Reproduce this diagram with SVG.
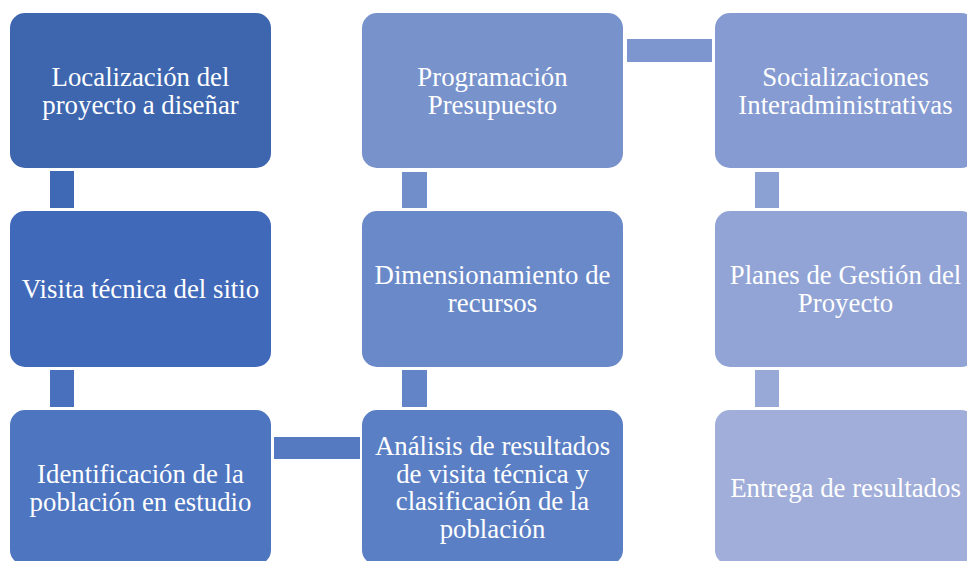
<svg xmlns="http://www.w3.org/2000/svg" width="967" height="561" viewBox="0 0 967 561">
<style>
.box{stroke:none}
.t{font-family:"Liberation Serif","Times New Roman",serif;font-size:26.8px;fill:#ffffff;text-anchor:middle}
</style>
<rect width="967" height="561" fill="#ffffff"/>
<g id="connectors">
<rect x="50" y="171" width="24" height="37" fill="#3F68B5"/>
<rect x="50" y="370" width="24" height="37" fill="#4870BC"/>
<rect x="274" y="437" width="86" height="22" fill="#557AC2"/>
<rect x="402" y="370" width="25" height="37" fill="#6384C6"/>
<rect x="402" y="172" width="25" height="36" fill="#718DCA"/>
<rect x="627" y="39" width="85" height="23" fill="#7E96CF"/>
<rect x="755" y="172" width="24" height="36" fill="#8BA0D3"/>
<rect x="755" y="370" width="24" height="37" fill="#98A9D7"/>
</g>
<g id="n1"><rect class="box" x="10" y="13" width="261" height="155" rx="15" fill="#3D66AF"/>
<text class="t" x="140.5" y="86">Localización del</text><text class="t" x="140.5" y="113.5">proyecto a diseñar</text></g>
<g id="n2"><rect class="box" x="10" y="211" width="261" height="156" rx="15" fill="#4169B9"/>
<text class="t" x="140.5" y="298">Visita técnica del sitio</text></g>
<g id="n3"><rect class="box" x="10" y="410" width="261" height="155" rx="15" fill="#4E75BF"/>
<text class="t" x="140.5" y="483">Identificación de la</text><text class="t" x="140.5" y="510.5">población en estudio</text></g>
<g id="n4"><rect class="box" x="362" y="410" width="261" height="155" rx="15" fill="#5B7FC4"/>
<text class="t" x="492.5" y="455">Análisis de resultados</text><text class="t" x="492.5" y="482.5">de visita técnica y</text><text class="t" x="492.5" y="510">clasificación de la</text><text class="t" x="492.5" y="537.5">población</text></g>
<g id="n5"><rect class="box" x="362" y="211" width="261" height="156" rx="15" fill="#6A89C8"/>
<text class="t" x="492.5" y="284">Dimensionamiento de</text><text class="t" x="492.5" y="311.5">recursos</text></g>
<g id="n6"><rect class="box" x="362" y="13" width="261" height="155" rx="15" fill="#7892CC"/>
<text class="t" x="492.5" y="86">Programación</text><text class="t" x="492.5" y="113.5">Presupuesto</text></g>
<g id="n7"><rect class="box" x="715" y="13" width="261" height="155" rx="15" fill="#859BD1"/>
<text class="t" x="845.5" y="86">Socializaciones</text><text class="t" x="845.5" y="113.5">Interadministrativas</text></g>
<g id="n8"><rect class="box" x="715" y="211" width="261" height="156" rx="15" fill="#91A4D5"/>
<text class="t" x="845.5" y="284">Planes de Gestión del</text><text class="t" x="845.5" y="311.5">Proyecto</text></g>
<g id="n9"><rect class="box" x="715" y="410" width="261" height="155" rx="15" fill="#A0AED9"/>
<text class="t" x="845.5" y="497">Entrega de resultados</text></g>
</svg>
